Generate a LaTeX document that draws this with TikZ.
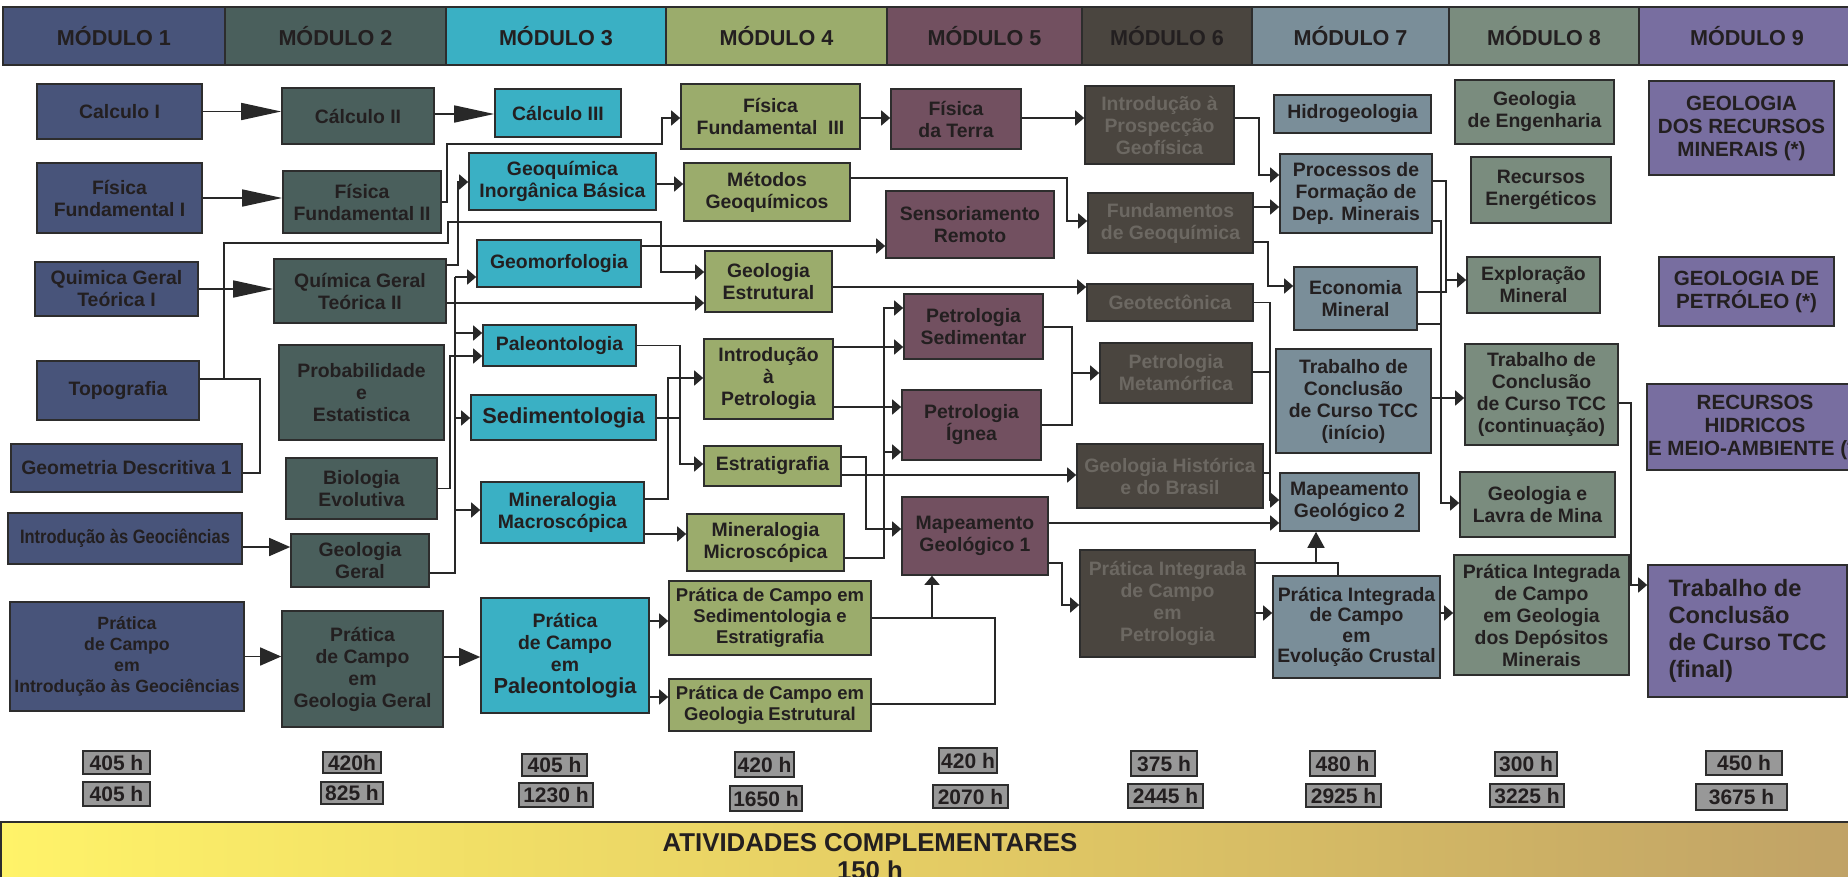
\documentclass[tikz,border=0pt]{standalone}
\usepackage{fontspec}
\setmainfont{Liberation Sans}
\usepackage{graphicx}
\usepackage{xcolor}
\usepackage{tikz}
\usetikzlibrary{arrows.meta, positioning}

\definecolor{col1}{RGB}{72,84,122}
\definecolor{col2}{RGB}{74,95,92}
\definecolor{col3}{RGB}{58,176,196}
\definecolor{col4}{RGB}{155,172,108}
\definecolor{col5}{RGB}{114,80,96}
\definecolor{col6}{RGB}{74,69,63}
\definecolor{col7}{RGB}{122,142,153}
\definecolor{col8}{RGB}{122,140,126}
\definecolor{col9}{RGB}{120,110,160}
\definecolor{txt}{RGB}{35,31,32}
\definecolor{col6txt}{RGB}{108,104,98}
\definecolor{boxline}{RGB}{45,45,45}
\definecolor{linecol}{RGB}{40,40,40}
\definecolor{hourgray}{RGB}{152,152,152}
\definecolor{barleft}{RGB}{255,243,105}
\definecolor{barmid}{RGB}{228,204,100}
\definecolor{barright}{RGB}{192,162,102}

\begin{document}
\begin{tikzpicture}[x=1pt, y=-1pt,
  wh/.style 2 args={minimum width=#1pt, minimum height=#2pt},
  box/.style={draw=boxline, line width=1.6pt, align=center, inner sep=1pt, text=txt, font=\bfseries\fontsize{19.4}{22}\selectfont},
  m1/.style={box, fill=col1},
  m2/.style={box, fill=col2},
  m3/.style={box, fill=col3},
  m4/.style={box, fill=col4},
  m5/.style={box, fill=col5},
  m6/.style={box, fill=col6, text=col6txt},
  m7/.style={box, fill=col7},
  m8/.style={box, fill=col8},
  m9/.style={box, fill=col9, font=\bfseries\fontsize{20.6}{23}\selectfont},
  head/.style={draw=boxline, line width=1.6pt, outer sep=0pt, inner sep=0pt, minimum height=58pt, text=txt, font=\bfseries\fontsize{21.6}{24}\selectfont},
  hrs/.style={draw=boxline, line width=1.6pt, fill=hourgray, inner sep=0pt, text=txt, font=\bfseries\fontsize{21}{22}\selectfont},
  link/.style={draw=linecol, line width=1.6pt},
  arr/.style={link, -{Triangle[length=9pt, width=15pt]}},
  midarr/.style={link, -{Triangle[length=21pt, width=18pt]}},
  bigarr/.style={link, -{Triangle[length=40pt, width=17pt]}},
  uparr/.style={link, -{Triangle[length=16pt, width=17pt]}},
]
\useasboundingbox (0,0) rectangle (1848,876);
\clip (0,0) rectangle (1848,876);

\node[head, fill=col1, minimum width=222pt] (mod1) at (114,36) {MÓDULO 1};
\node[head, fill=col2, minimum width=221pt, right=0pt of mod1] (mod2) {MÓDULO 2};
\node[head, fill=col3, minimum width=220pt, right=0pt of mod2] (mod3) {MÓDULO 3};
\node[head, fill=col4, minimum width=221pt, right=0pt of mod3] (mod4) {MÓDULO 4};
\node[head, fill=col5, minimum width=195pt, right=0pt of mod4] (mod5) {MÓDULO 5};
\node[head, fill=col6, minimum width=170pt, right=0pt of mod5] (mod6) {MÓDULO 6};
\node[head, fill=col7, minimum width=197pt, right=0pt of mod6] (mod7) {MÓDULO 7};
\node[head, fill=col8, minimum width=190pt, right=0pt of mod7] (mod8) {MÓDULO 8};
\node[head, fill=col9, minimum width=216pt, right=0pt of mod8] (mod9) {MÓDULO 9};

\node[m1, wh={165}{55}] (calcI) at (119.5,111.5) {Calculo I};
\node[m1, wh={165}{70}] (fisI) at (119.5,198) {Física\\Fundamental I};
\node[m1, wh={163}{54}] (quiI) at (116.5,289) {Quimica Geral\\Teórica I};
\node[m1, wh={162}{59}] (topo) at (118,390.5) {Topografia};
\node[m1, wh={231}{48}] (geomd) at (126.5,468) {Geometria Descritiva 1};
\node[m1, wh={234}{51}] (introgeo) at (125,538.5) {\scalebox{0.85}[1]{Introdução às Geociências}};
\node[m1, wh={234}{109}, font=\bfseries\fontsize{17.7}{21}\selectfont] (pcintro) at (127,656.5) {Prática\\de Campo\\em\\Introdução às Geociências};

\node[m2, wh={152}{56}] (calcII) at (358,116) {Cálculo II};
\node[m2, wh={158}{62}] (fisII) at (362,202) {Física\\Fundamental II};
\node[m2, wh={172}{64}] (quiII) at (360,291) {Química Geral\\Teórica II};
\node[m2, wh={165}{95}] (prob) at (361.5,392.5) {Probabilidade\\e\\Estatistica};
\node[m2, wh={151}{61}] (bio) at (361.5,488.5) {Biologia\\Evolutiva};
\node[m2, wh={138}{53}] (geogeral) at (360,560.5) {Geologia\\Geral};
\node[m2, wh={161}{116}] (pcgeral) at (362.5,669) {Prática\\de Campo\\em\\Geologia Geral};

\node[m3, wh={126}{48}] (calcIII) at (558,113) {Cálculo III};
\node[m3, wh={187}{57}] (geoqib) at (562.5,181.5) {Geoquímica\\Inorgânica Básica};
\node[m3, wh={164}{47}] (geomorf) at (559,263.5) {Geomorfologia};
\node[m3, wh={153}{41}] (paleo) at (559.5,345.5) {Paleontologia};
\node[m3, wh={185}{45}, font=\bfseries\fontsize{21.8}{24}\selectfont] (sedim) at (563.5,417.5) {Sedimentologia};
\node[m3, wh={163}{61}] (minmac) at (562.5,512.5) {Mineralogia\\Macroscópica};
\node[m3, wh={168}{115}] (pcpaleo) at (565,655.5) {Prática\\de Campo\\em\\{\fontsize{21.8}{22}\selectfont Paleontologia}};

\node[m4, wh={179}{65}] (fisIII) at (770.5,116.5) {Física\\Fundamental~~III};
\node[m4, wh={166}{58}] (metgeo) at (767,192) {Métodos\\Geoquímicos};
\node[m4, wh={127}{61}] (geoest) at (768.5,281.5) {Geologia\\Estrutural};
\node[m4, wh={129}{80}] (intpet) at (768.5,379) {Introdução\\à\\Petrologia};
\node[m4, wh={137}{40}] (estrat) at (772.5,466) {Estratigrafia};
\node[m4, wh={157}{57}] (minmic) at (765.5,542.5) {Mineralogia\\Microscópica};
\node[m4, wh={202}{74}, font=\bfseries\fontsize{18.5}{21}\selectfont] (pcsed) at (770,618) {Prática de Campo em\\Sedimentologia e\\Estratigrafia};
\node[m4, wh={202}{52}, font=\bfseries\fontsize{18.5}{21}\selectfont] (pcest) at (770,705) {Prática de Campo em\\Geologia Estrutural};

\node[m5, wh={130}{60}] (fister) at (956,119) {Física\\da Terra};
\node[m5, wh={168}{67}] (sensor) at (970,224.5) {Sensoriamento\\Remoto};
\node[m5, wh={139}{65}] (petsed) at (973.5,326.5) {Petrologia\\Sedimentar};
\node[m5, wh={139}{70}] (petign) at (971.5,425) {Petrologia\\Ígnea};
\node[m5, wh={146}{78}] (mapI) at (975,536) {Mapeamento\\Geológico 1};

\node[m6, wh={149}{78}] (prosp) at (1159.5,125) {Introdução à\\Prospecção\\Geofísica};
\node[m6, wh={165}{60}] (fundgeo) at (1170.5,223) {Fundamentos\\de Geoquímica};
\node[m6, wh={166}{37}] (geotec) at (1170,302.5) {Geotectônica};
\node[m6, wh={152}{60}] (petmet) at (1176,373) {Petrologia\\Metamórfica};
\node[m6, wh={186}{64}] (geohist) at (1170,476) {Geologia Histórica\\e do Brasil};
\node[m6, wh={175}{107}] (pipet) at (1167.5,603.5) {Prática Integrada\\de Campo\\em\\Petrologia};

\node[m7, wh={157}{38}] (hidro) at (1352.5,114) {Hidrogeologia};
\node[m7, wh={152}{79}] (procdep) at (1356,193.5) {Processos de\\Formação de\\Dep. Minerais};
\node[m7, wh={123}{63}] (econ) at (1355.5,298.5) {Economia\\Mineral};
\node[m7, wh={155}{104}] (tccini) at (1353.5,401) {Trabalho de\\Conclusão\\de Curso TCC\\(início)};
\node[m7, wh={139}{58}] (mapII) at (1349.5,502) {Mapeamento\\Geológico 2};
\node[m7, wh={167}{102}, font=\bfseries\fontsize{19.4}{20.5}\selectfont] (pievol) at (1356.5,627) {Prática Integrada\\de Campo\\em\\Evolução Crustal};

\node[m8, wh={159}{64}] (geoeng) at (1534.5,112) {Geologia\\de Engenharia};
\node[m8, wh={140}{66}] (recen) at (1541,190) {Recursos\\Energéticos};
\node[m8, wh={133}{56}] (explmin) at (1533.5,285) {Exploração\\Mineral};
\node[m8, wh={153}{101}] (tcccont) at (1541.5,394.5) {Trabalho de\\Conclusão\\de Curso TCC\\(continuação)};
\node[m8, wh={155}{65}] (lavra) at (1537.5,504.5) {Geologia e\\Lavra de Mina};
\node[m8, wh={175}{120}] (pidep) at (1541.5,615) {Prática Integrada\\de Campo\\em Geologia\\dos Depósitos\\Minerais};

\node[m9, wh={185}{94}] (georec) at (1741.5,128) {GEOLOGIA\\DOS RECURSOS\\MINERAIS (*)};
\node[m9, wh={175}{69}] (petrol) at (1746.5,291.5) {GEOLOGIA DE\\PETRÓLEO (*)};
\node[m9, wh={212}{86}] (hidric) at (1755,427) {RECURSOS\\HIDRICOS\\E MEIO-AMBIENTE (*)};
\node[m9, wh={199}{132}, align=left, font=\bfseries\fontsize{23.7}{27}\selectfont] (tccfin) at (1747.5,631) {Trabalho de\\Conclusão\\de Curso TCC\\(final)};

\node[hrs, wh={67}{23}] (hr1a) at (116.5,762.5) {405 h};
\node[hrs, wh={67}{24}] (hr1b) at (116.5,794) {405 h};
\node[hrs, wh={58}{21}] (hr2a) at (352,762.5) {420h};
\node[hrs, wh={62}{22}] (hr2b) at (352,793) {825 h};
\node[hrs, wh={65}{22}] (hr3a) at (554.5,765) {405 h};
\node[hrs, wh={74}{24}] (hr3b) at (556,795) {1230 h};
\node[hrs, wh={59}{25}] (hr4a) at (764.5,764.5) {420 h};
\node[hrs, wh={72}{25}] (hr4b) at (766,798.5) {1650 h};
\node[hrs, wh={58}{25}] (hr5a) at (968,760.5) {420 h};
\node[hrs, wh={75}{23}] (hr5b) at (970.5,796.5) {2070 h};
\node[hrs, wh={66}{25}] (hr6a) at (1164,763.5) {375 h};
\node[hrs, wh={75}{24}] (hr6b) at (1165.5,796) {2445 h};
\node[hrs, wh={65}{25}] (hr7a) at (1342.5,763.5) {480 h};
\node[hrs, wh={75}{23}] (hr7b) at (1343.5,795.5) {2925 h};
\node[hrs, wh={62}{24}] (hr8a) at (1526,764) {300 h};
\node[hrs, wh={74}{23}] (hr8b) at (1527,795.5) {3225 h};
\node[hrs, wh={76}{24}] (hr9a) at (1744,763) {450 h};
\node[hrs, wh={91}{26}] (hr9b) at (1741.5,797) {3675 h};

\node[draw=boxline, line width=1.6pt, inner sep=0pt, anchor=north west, wh={1852}{70},
  left color=barleft, right color=barright, middle color=barmid] (bar) at (0,821) {};
\node[align=center, text=txt, font=\bfseries\fontsize{25.8}{28}\selectfont] (act) at (870,857) {ATIVIDADES COMPLEMENTARES\\150 h};

\coordinate (jtopo) at (224,379);
\coordinate (gg1) at (455,277);
\coordinate (gg2) at (455,333);
\coordinate (gg3) at (455,418);
\coordinate (gg4) at (455,510);
\coordinate (jest) at (680,418);
\coordinate (jmin) at (884,452);
\coordinate (jpet) at (1072,373);
\coordinate (jgt1) at (1270,372);
\coordinate (jgt2) at (1270,473);
\coordinate (jmap1) at (932,618);
\coordinate (jmap2) at (1316,563);
\coordinate (jexp) at (1446,280);
\coordinate (jlav) at (1441,324);

\draw[bigarr] (calcI.east) -- (calcI.east -| calcII.west);
\draw[bigarr] (fisI.east) -- (fisI.east -| fisII.west);
\draw[bigarr] (quiI.east) -- (quiI.east -| quiII.west);
\draw[bigarr] (calcII.east |- 0,114) -- (calcIII.west |- 0,114);
\draw[midarr] (introgeo.east |- 0,547) -- (geogeral.west |- 0,547);
\draw[midarr] (pcintro.east) -- (pcintro.east -| pcgeral.west);
\draw[midarr] (pcgeral.east |- 0,657) -- (pcpaleo.west |- 0,657);

\draw[arr] (fisII.east) -| (447,144) -| (662,118) -- (fisIII.west |- 0,118);
\draw[arr] (quiII.east |- 0,265) -| (458,182) -- (geoqib.west |- 0,182);
\draw[link] (topo.east |- jtopo) -- (260,379) |- (geomd.east |- 0,473);
\draw[arr] (jtopo) |- (448,243) |- (661,222) |- (geoest.west |- 0,272);
\draw[arr] (quiII.east |- 0,303) -- (geoest.west |- 0,303);
\draw[arr] (geomorf.east |- 0,246) -- (sensor.west |- 0,246);
\draw[link] (geogeral.east |- 0,573) -| (gg1);
\draw[arr] (gg1) -- (geomorf.west |- gg1);
\draw[arr] (gg2) -- (paleo.west |- gg2);
\draw[arr] (gg3) -- (sedim.west |- gg3);
\draw[arr] (gg4) -- (minmac.west |- gg4);
\draw[arr] (bio.east) -| (450,356) -- (paleo.west |- 0,356);

\draw[arr] (geoqib.east |- 0,184) -- (metgeo.west |- 0,184);
\draw[arr] (paleo.east) -| (680,464) -- (estrat.west |- 0,464);
\draw[link] (sedim.east |- jest) -- (jest);
\draw[arr] (minmac.east |- 0,499) -| (668,378) -- (intpet.west |- 0,378);
\draw[arr] (minmac.east |- 0,534) -- (minmic.west |- 0,534);
\draw[arr] (pcpaleo.east |- 0,621) -- (pcsed.west |- 0,621);
\draw[arr] (pcpaleo.east |- 0,697) -- (pcest.west |- 0,697);

\draw[arr] (fisIII.east |- 0,118) -- (fister.west |- 0,118);
\draw[arr] (metgeo.east |- 0,178) -| (1067,221) -- (fundgeo.west |- 0,221);
\draw[arr] (geoest.east |- 0,287) -- (geotec.west |- 0,287);
\draw[arr] (intpet.east |- 0,347) -- (petsed.west |- 0,347);
\draw[arr] (intpet.east |- 0,407) -- (petign.west |- 0,407);
\draw[arr] (minmic.east |- 0,558) -| (884,308) -- (petsed.west |- 0,308);
\draw[arr] (jmin) -- (petign.west |- jmin);
\draw[arr] (estrat.east |- 0,475) -- (geohist.west |- 0,475);
\draw[arr] (estrat.east |- 0,457) -| (866,529) -- (mapI.west |- 0,529);
\draw[link] (pcsed.east) -| (995,704) -- (pcest.east |- 0,704);
\draw[arr] (jmap1) -- (mapI.south -| jmap1);

\draw[arr] (fister.east |- 0,118) -- (prosp.west |- 0,118);
\draw[link] (petsed.east |- 0,327) -| (1072,425) -- (petign.east |- 0,425);
\draw[arr] (jpet) -- (petmet.west |- jpet);
\draw[arr] (mapI.east |- 0,523) -- (mapII.west |- 0,523);
\draw[arr] (mapI.east |- 0,563) -| (1062,605) -- (pipet.west |- 0,605);

\draw[arr] (prosp.east |- 0,118) -| (1259,175) -- (procdep.west |- 0,175);
\draw[arr] (fundgeo.east |- 0,207) -- (procdep.west |- 0,207);
\draw[arr] (fundgeo.east |- 0,242) -| (1268,286) -- (econ.west |- 0,286);
\draw[arr] (geotec.east) -| (1270,500) -- (mapII.west |- 0,500);
\draw[link] (petmet.east |- jgt1) -- (jgt1);
\draw[link] (geohist.east |- jgt2) -- (jgt2);
\draw[arr] (pipet.east |- 0,613) -- (pievol.west |- 0,613);
\draw[link] (pipet.east |- jmap2) -| (pievol.north -| 1338,0);
\draw[uparr] (jmap2) -- (mapII.south -| jmap2);

\draw[link] (procdep.east |- 0,181) -| (1446,292) -- (econ.east |- 0,292);
\draw[arr] (jexp) -- (explmin.west |- jexp);
\draw[arr] (procdep.east |- 0,221) -| (1441,503) -- (lavra.west |- 0,503);
\draw[link] (econ.east |- jlav) -- (jlav);
\draw[arr] (tccini.east |- 0,398) -- (tcccont.west |- 0,398);
\draw[arr] (pievol.east |- 0,613) -- (pidep.west |- 0,613);
\draw[arr] (tcccont.east |- 0,403) -| (1631,585) -- (tccfin.west |- 0,585);
\end{tikzpicture}
\end{document}
